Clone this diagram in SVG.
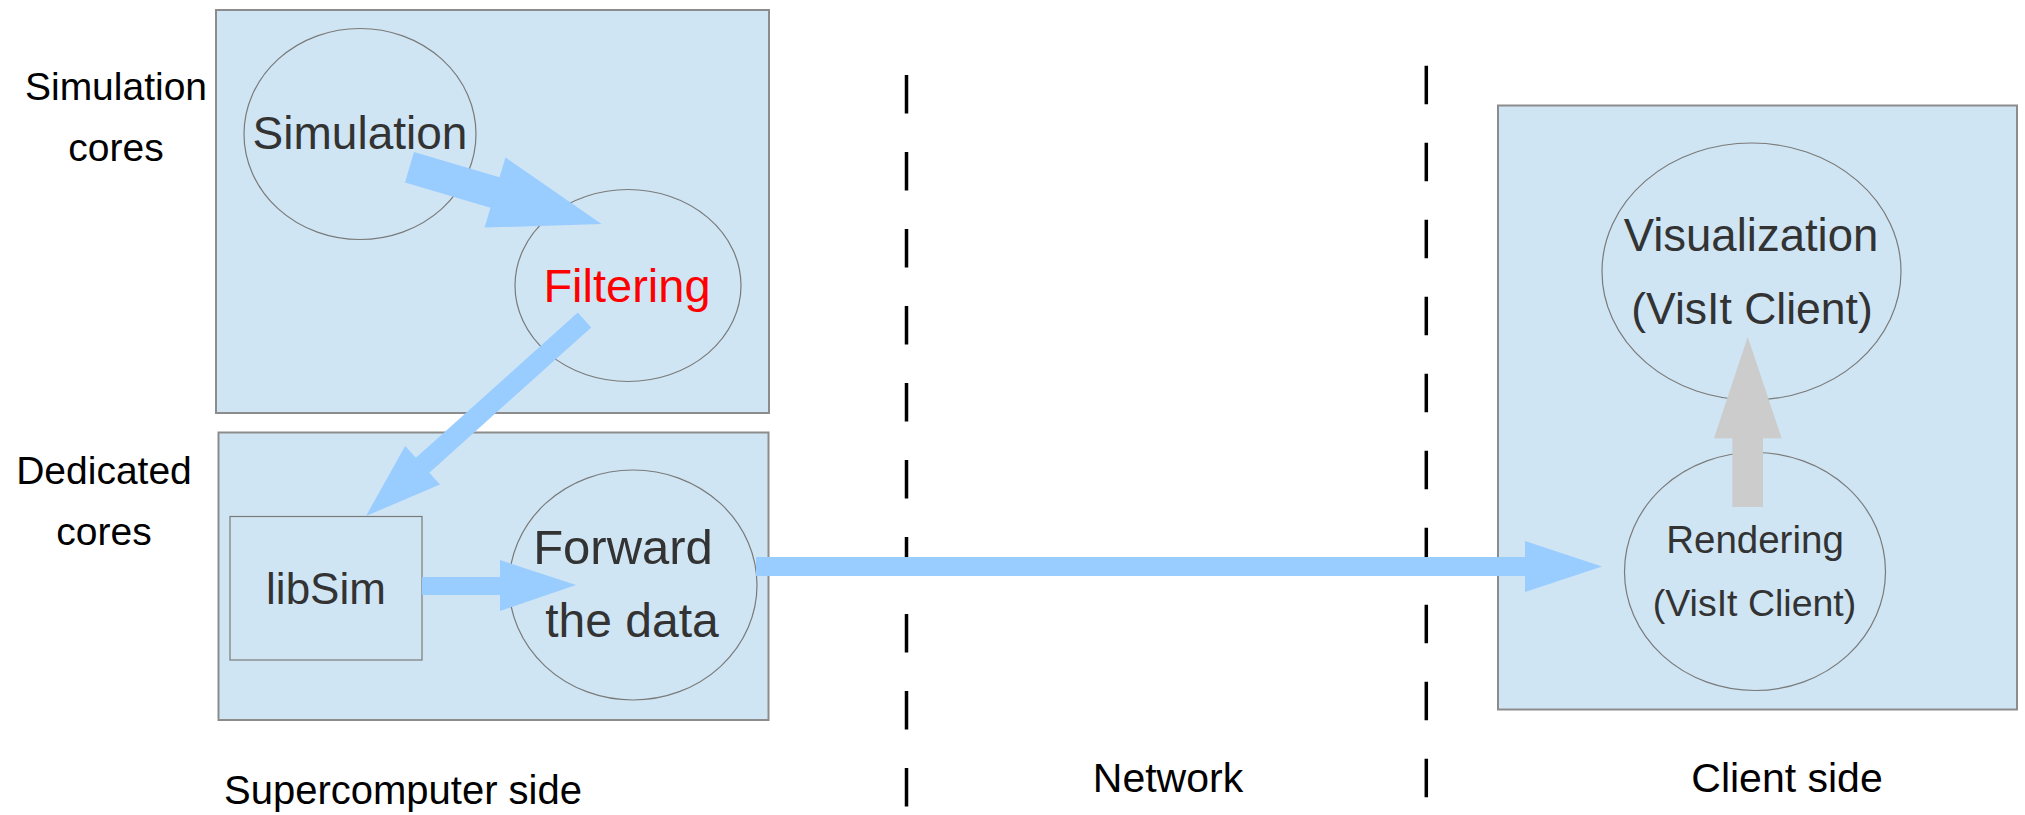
<svg xmlns="http://www.w3.org/2000/svg" width="2025" height="815" viewBox="0 0 2025 815">
<style>
.box{fill:#cfe5f3;stroke:#8c8c8c;stroke-width:2}
.node{fill:#cfe5f3;stroke:#7a7a7a;stroke-width:1.2}
.ntext{font-family:"Liberation Sans",Arial,sans-serif;fill:#333333;text-anchor:middle}
.label{font-family:"Liberation Sans",Arial,sans-serif;fill:#000000;text-anchor:middle}
.blue{fill:#99ccff}
.gray{fill:#cccccc}
.dash{stroke:#000000;stroke-width:3.5;stroke-dasharray:38.5 38.5;fill:none}
</style>
<rect x="0" y="0" width="2025" height="815" fill="#ffffff"/>

<g id="labels">
<text class="label" x="116" y="100" font-size="39">Simulation</text>
<text class="label" x="116" y="161" font-size="39">cores</text>
<text class="label" x="104" y="484" font-size="39">Dedicated</text>
<text class="label" x="104" y="545" font-size="39">cores</text>
<text class="label" x="403" y="804" font-size="40">Supercomputer side</text>
<text class="label" x="1168" y="792" font-size="41">Network</text>
<text class="label" x="1787" y="792" font-size="41">Client side</text>
</g>

<g id="separators">
<line class="dash" x1="906.5" y1="75" x2="906.5" y2="807"/>
<line class="dash" x1="1426.3" y1="65.7" x2="1426.3" y2="797.5"/>
</g>

<g id="simulation-cores-box"><rect class="box" x="216" y="10" width="553" height="403"/></g>
<g id="dedicated-cores-box"><rect class="box" x="218.5" y="432.5" width="550" height="287.5"/></g>
<g id="client-box"><rect class="box" x="1498" y="105.5" width="519" height="604"/></g>

<g id="simulation">
<ellipse class="node" cx="360" cy="134" rx="116" ry="105.5"/>
<text class="ntext" x="360" y="149" font-size="46">Simulation</text>
</g>
<g id="filtering">
<ellipse class="node" cx="628" cy="285.5" rx="113" ry="96"/>
<text class="ntext" x="627" y="302" font-size="47" style="fill:#ff0000">Filtering</text>
</g>
<g id="libsim">
<rect class="node" x="230" y="516.5" width="192" height="143.5"/>
<text class="ntext" x="326" y="604" font-size="44">libSim</text>
</g>
<g id="forward">
<ellipse class="node" cx="633" cy="585" rx="124" ry="115"/>
<text class="ntext" x="623" y="564" font-size="49">Forward</text>
<text class="ntext" x="632" y="637" font-size="48">the data</text>
</g>
<g id="visualization">
<ellipse class="node" cx="1751.5" cy="271.5" rx="149.5" ry="128.5"/>
<text class="ntext" x="1751" y="251" font-size="45.5">Visualization</text>
<text class="ntext" x="1752" y="324" font-size="44.5">(VisIt Client)</text>
</g>
<g id="rendering">
<ellipse class="node" cx="1755" cy="571.5" rx="130.5" ry="119"/>
<text class="ntext" x="1755" y="553" font-size="38.5">Rendering</text>
<text class="ntext" x="1754.5" y="616" font-size="37.5">(VisIt Client)</text>
</g>

<g id="connectors">
<polygon class="blue" points="414,151.9 499.5,177.2 505.4,157.4 601.5,224 484.6,227.6 490.5,207.8 405,182.5"/>
<polygon class="blue" points="577.8,312.6 415.9,457.8 405.2,445.9 366,516 440,484.6 429.3,472.7 591.2,327.4"/>
<polygon class="blue" points="422,577 500,577 500,560 576,585 500,611 500,595 422,595"/>
<polygon class="blue" points="756,557 1525,557 1525,541 1602,566.5 1525,592 1525,576 756,576"/>
<polygon class="gray" points="1732.3,507 1732.3,438.3 1714,438.3 1747.7,336.7 1781.7,438.3 1763,438.3 1763,507"/>
</g>
</svg>
